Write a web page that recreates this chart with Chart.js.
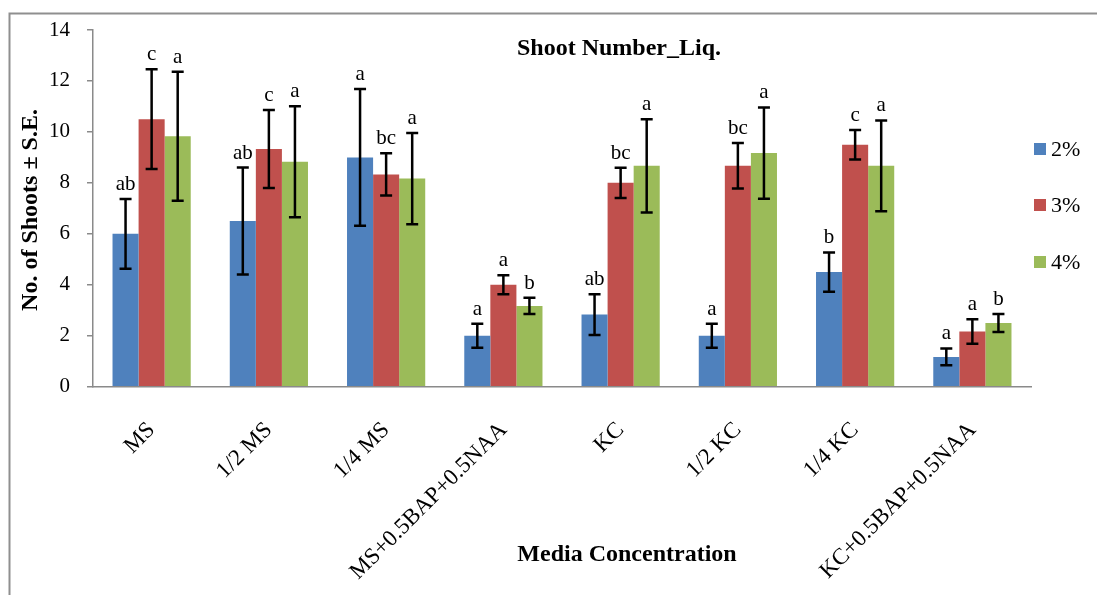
<!DOCTYPE html>
<html>
<head>
<meta charset="utf-8">
<script src="https://cdn.jsdelivr.net/npm/chart.js@4/dist/chart.umd.min.js"></script>
<style>
  html, body { margin: 0; padding: 0; background: #ffffff; }
  #wrap { width: 1097px; height: 595px; position: relative; }
</style>
</head>
<body>
<div id="wrap"><canvas id="c" width="1097" height="595"></canvas></div>
<script>
// Media treatments along the x axis
const categories = ['MS', '1/2 MS', '1/4 MS', 'MS+0.5BAP+0.5NAA', 'KC', '1/2 KC', '1/4 KC', 'KC+0.5BAP+0.5NAA'];
const seriesNames = ['2%', '3%', '4%'];

// Mean shoot number per treatment
const mean2 = [6.0, 6.5, 9.0, 2.0, 2.83, 2.0, 4.5, 1.17];
const mean3 = [10.5, 9.33, 8.33, 4.0, 8.0, 8.67, 9.5, 2.17];
const mean4 = [9.83, 8.83, 8.17, 3.17, 8.67, 9.17, 8.67, 2.5];

// Standard errors
const se2 = [1.37, 2.1, 2.68, 0.47, 0.8, 0.47, 0.77, 0.33];
const se3 = [1.96, 1.53, 0.83, 0.37, 0.59, 0.89, 0.58, 0.48];
const se4 = [2.53, 2.18, 1.79, 0.32, 1.83, 1.79, 1.78, 0.35];

// Significance letters
const letters2 = ['ab', 'ab', 'a', 'a', 'ab', 'a', 'b', 'a'];
const letters3 = ['c', 'c', 'bc', 'a', 'bc', 'bc', 'c', 'a'];
const letters4 = ['a', 'a', 'a', 'b', 'a', 'a', 'a', 'b'];

// Y axis tick values
const yTicks = [0, 2, 4, 6, 8, 10, 12, 14];

const colors = ['#4F81BD', '#C0504D', '#9BBB59'];
const means = [mean2, mean3, mean4];
const errors = [se2, se3, se4];
const letters = [letters2, letters3, letters4];

const SERIF = "'Liberation Serif', 'Times New Roman', serif";
const AXIS_GREY = '#8a8a8a';

// Error bars, letters, titles, legend and frame
const decorations = {
  id: 'decorations',
  beforeDraw(chart) {
    const ctx = chart.ctx;
    ctx.save();
    ctx.fillStyle = '#ffffff';
    ctx.fillRect(0, 0, chart.width, chart.height);
    ctx.restore();
  },
  afterDatasetsDraw(chart) {
    const ctx = chart.ctx;
    const y = chart.scales.y;
    ctx.save();
    for (let d = 0; d < chart.data.datasets.length; d++) {
      const meta = chart.getDatasetMeta(d);
      meta.data.forEach((bar, i) => {
        const v = means[d][i];
        const e = errors[d][i];
        const x = bar.x;
        const yTop = y.getPixelForValue(v + e);
        const yBot = y.getPixelForValue(v - e);
        ctx.strokeStyle = '#000000';
        ctx.lineWidth = 2.5;
        ctx.lineCap = 'butt';
        ctx.beginPath();
        ctx.moveTo(x, yTop); ctx.lineTo(x, yBot);
        ctx.moveTo(x - 6, yTop); ctx.lineTo(x + 6, yTop);
        ctx.moveTo(x - 6, yBot); ctx.lineTo(x + 6, yBot);
        ctx.stroke();

        ctx.fillStyle = '#000000';
        ctx.font = '21px ' + SERIF;
        ctx.textAlign = 'center';
        ctx.textBaseline = 'alphabetic';
        ctx.fillText(letters[d][i], x, yTop - 9);
      });
    }
    ctx.restore();
  },
  afterDraw(chart) {
    const ctx = chart.ctx;
    ctx.save();
    // outer frame
    ctx.strokeStyle = '#8f8f8f';
    ctx.lineWidth = 2;
    ctx.beginPath();
    ctx.moveTo(9.5, 700);
    ctx.lineTo(9.5, 13.5);
    ctx.lineTo(1200, 13.5);
    ctx.stroke();

    ctx.fillStyle = '#000000';
    // chart title
    ctx.font = 'bold 24px ' + SERIF;
    ctx.textAlign = 'center';
    ctx.textBaseline = 'alphabetic';
    ctx.fillText('Shoot Number_Liq.', 619, 55);
    // x axis title
    ctx.fillText('Media Concentration', 627, 561);
    // y axis title
    ctx.save();
    ctx.translate(37, 210);
    ctx.rotate(-Math.PI / 2);
    ctx.fillText('No. of Shoots \u00B1 S.E.', 0, 0);
    ctx.restore();

    // legend
    const ly = [149, 205, 262];
    ctx.font = '22px ' + SERIF;
    ctx.textAlign = 'left';
    ctx.textBaseline = 'middle';
    chart.data.datasets.forEach((ds, k) => {
      ctx.fillStyle = ds.backgroundColor;
      ctx.fillRect(1034, ly[k] - 6, 12, 12);
      ctx.fillStyle = '#000000';
      ctx.fillText(ds.label, 1051, ly[k] + 1);
    });
    ctx.restore();
  }
};

new Chart(document.getElementById('c'), {
  type: 'bar',
  data: {
    labels: categories,
    datasets: seriesNames.map((name, k) => ({
      label: name,
      data: means[k],
      backgroundColor: colors[k],
      borderWidth: 0,
      categoryPercentage: 0.667,
      barPercentage: 1.0
    }))
  },
  options: {
    responsive: false,
    animation: false,
    devicePixelRatio: 1,
    layout: { padding: { top: 30, right: 66, bottom: 0, left: 0 } },
    plugins: {
      legend: { display: false },
      title: { display: false },
      tooltip: { enabled: false }
    },
    scales: {
      x: {
        grid: { display: false, drawTicks: false },
        border: { display: true, color: AXIS_GREY, width: 1.5 },
        ticks: {
          autoSkip: false,
          minRotation: 45,
          maxRotation: 45,
          padding: 30,
          color: '#000000',
          font: { family: SERIF, size: 23 }
        },
        afterFit(scale) { scale.height = 208.3; }
      },
      y: {
        min: 0,
        max: 14,
        afterBuildTicks(scale) { scale.ticks = yTicks.map(v => ({ value: v })); },
        grid: { drawOnChartArea: false, drawTicks: true, tickLength: 6, color: AXIS_GREY, lineWidth: 1.5 },
        border: { display: true, color: AXIS_GREY, width: 1.5 },
        ticks: {
          padding: 17,
          color: '#000000',
          font: { family: SERIF, size: 21 }
        },
        afterFit(scale) { scale.width = 93; }
      }
    }
  },
  plugins: [decorations]
});
</script>
</body>
</html>
